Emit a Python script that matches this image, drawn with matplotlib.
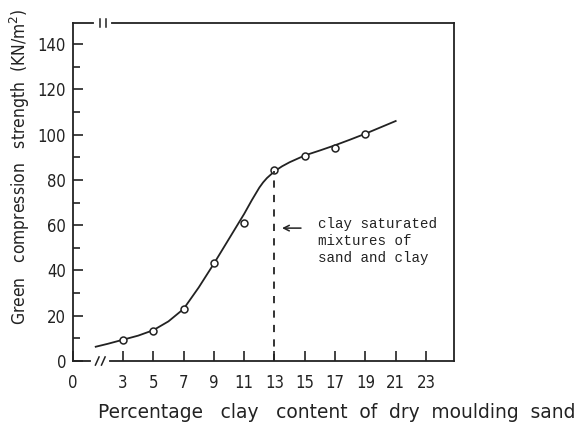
import matplotlib
matplotlib.use("Agg")
import matplotlib.pyplot as plt
from matplotlib.ticker import MultipleLocator

# data points (circles)
clay_pct = [3, 5, 7, 9, 11, 13, 15, 17, 19]
strength = [9.3, 13.4, 22.8, 43.4, 60.8, 84.4, 90.5, 94.0, 100.4]

# fitted curve
curve_x = [1.2, 2, 3, 4, 5, 6, 7, 8, 9, 10, 10.5, 11, 11.5, 12, 12.25, 12.5,
           13, 13.5, 14, 15, 16, 17, 18, 19, 20, 21]
curve_y = [6.3, 7.6, 9.4, 11.2, 13.6, 17.5, 23.0, 32.5, 43.0, 54.0, 59.5,
           65.0, 71.0, 76.6, 78.9, 80.8, 83.8, 86.0, 87.8, 90.8, 93.0, 95.3,
           97.8, 100.4, 103.2, 106.0]

x_ticks = [3, 5, 7, 9, 11, 13, 15, 17, 19, 21, 23]
y_ticks = [0, 20, 40, 60, 80, 100, 120, 140]
saturation_x = 13
saturation_y = 84.0

ink = "#222222"
fig = plt.figure(figsize=(5.81, 4.29), dpi=100)
ax = fig.add_axes([73/581, 68/429, (454-73)/581, (361-23)/429])

x0 = -0.3
ax.set_xlim(x0, 24.85)
ax.set_ylim(0, 149.3)

ax.plot(curve_x, curve_y, color=ink, lw=1.3)
ax.plot(clay_pct, strength, 'o', ms=5, mfc='white', mec=ink, mew=1.1)
ax.plot([saturation_x, saturation_x], [0, saturation_y], color=ink, lw=1.3,
        dashes=(4, 4))

tickfont = dict(family='DejaVu Sans', stretch='condensed', size=12)
ax.set_xticks([x0] + x_ticks)
ax.set_xticklabels(["0"] + [str(v) for v in x_ticks], fontdict=tickfont,
                   color=ink)
ax.set_yticks(y_ticks)
ax.set_yticklabels([str(v) for v in y_ticks], fontdict=tickfont, color=ink)
ax.yaxis.set_minor_locator(MultipleLocator(10))
ax.tick_params(axis='both', which='major', direction='in', length=7,
               width=1.2, color=ink, pad=5)
ax.tick_params(axis='y', which='minor', direction='in', length=5, width=1.2,
               color=ink)
ax.tick_params(axis='x', which='major', pad=9)

for s in ax.spines.values():
    s.set_color(ink)
    s.set_linewidth(1.3)

# axis breaks
def brk(xc, yaxes, slant):
    t = ax.get_xaxis_transform()
    ax.plot([xc - 0.45, xc + 0.45], [yaxes, yaxes], color='white', lw=3,
            transform=t, clip_on=False, zorder=5)
    for dx in (-0.2, 0.2):
        ax.plot([xc + dx - slant, xc + dx + slant], [yaxes - 0.012, yaxes + 0.012],
                color=ink, lw=1.1, transform=t, clip_on=False, zorder=6)

brk(1.5, 0.0, 0.12)
brk(1.65, 1.0, 0.0)

ax.set_xlabel("Percentage   clay   content  of  dry  moulding  sand",
              family='DejaVu Sans', size=13.4, color=ink,
              labelpad=8, x=0.693)
ax.set_ylabel("Green   compression   strength  (KN/m$^2$)",
              family='DejaVu Sans', stretch='condensed', size=12.5, color=ink,
              labelpad=4, y=0.574)

ax.annotate("", xy=(13.5, 58.7), xytext=(14.75, 58.7),
            arrowprops=dict(arrowstyle='->', color=ink, lw=1.1,
                            shrinkA=0, shrinkB=0))
ax.text(15.9, 63.5, "clay saturated\nmixtures of\nsand and clay",
        family='Liberation Mono', size=10.2, color=ink, va='top', ha='left',
        linespacing=1.25)

fig.savefig("out.png", dpi=100, facecolor='white')
